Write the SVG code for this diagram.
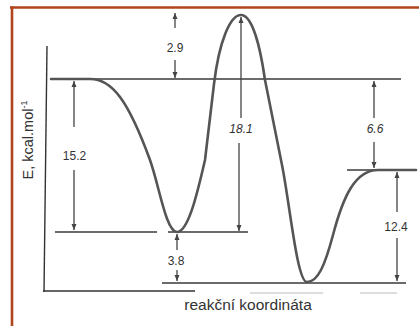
<svg xmlns="http://www.w3.org/2000/svg" width="419" height="326" viewBox="0 0 419 326">
<style>
.frame{stroke:#b0441c;stroke-width:2.6;fill:none}
.axis{stroke:#333;stroke-width:1.4;fill:none}
.lvl{stroke:#3a3a3a;stroke-width:1.4;fill:none}
.faint{stroke:#bbb;stroke-width:1.2;fill:none}
.curve{stroke:#555;stroke-width:2.6;fill:none;stroke-linecap:round;stroke-linejoin:round}
.arr{stroke:#444;stroke-width:1.3;fill:none;marker-end:url(#ah)}
.num{font-family:"Liberation Sans",Arial,sans-serif;font-size:12px;fill:#333;text-anchor:middle}
.it{font-style:italic}
.lab{font-family:"Liberation Sans",Arial,sans-serif;fill:#333}
</style>
<defs>
<marker id="ah" markerWidth="8" markerHeight="8" refX="6" refY="3" orient="auto" markerUnits="userSpaceOnUse">
<path d="M0,0.5 L6,3 L0,5.5 Z" fill="#444"/>
</marker>
</defs>
<rect width="419" height="326" fill="#fff"/>
<g id="frame">
<line class="frame" x1="10" y1="7.5" x2="419" y2="7.5"/>
<line class="frame" x1="12" y1="6.5" x2="12" y2="326"/>
</g>
<g id="axes">
<line class="axis" x1="47" y1="46" x2="44" y2="292"/>
<line class="axis" x1="43" y1="291" x2="195" y2="291"/>
<line class="faint" x1="250" y1="293" x2="323" y2="293"/>
<line class="faint" x1="360" y1="293" x2="397" y2="293"/>
</g>
<g id="levels">
<line class="lvl" x1="51" y1="79" x2="401" y2="79"/>
<line class="lvl" x1="55" y1="232" x2="157" y2="232"/>
<line class="lvl" x1="168" y1="232" x2="248" y2="232"/>
<line class="lvl" x1="162" y1="283" x2="406" y2="283"/>
<line class="lvl" x1="347" y1="170" x2="416" y2="170"/>
</g>
<g id="curve">
<path class="curve" d="M51,79 L90,79 C112,79 128,100 150,160 C159,185 166,232 177,232 C188,232 197,195 205,160 L214,84 C219,42 230,15 241,15 C252,15 260,45 265,80 L282,165 C290,205 297,282 307,282 C318,282 325,265 333,235 C343,197 355,170 378,170 L416,170"/>
</g>
<g id="connectors">
<line class="arr" x1="175" y1="28" x2="175" y2="13"/>
<line class="arr" x1="175" y1="60" x2="175" y2="78"/>
<line class="arr" x1="74" y1="127" x2="74" y2="81"/>
<line class="arr" x1="74" y1="170" x2="74" y2="230"/>
<line class="arr" x1="241" y1="118" x2="241" y2="17"/>
<line class="arr" x1="239" y1="143" x2="239" y2="231"/>
<line class="arr" x1="374" y1="118" x2="374" y2="81"/>
<line class="arr" x1="374" y1="142" x2="374" y2="168"/>
<line class="arr" x1="397" y1="212" x2="397" y2="172"/>
<line class="arr" x1="397" y1="238" x2="397" y2="281"/>
<line class="arr" x1="177" y1="250" x2="177" y2="234"/>
<line class="arr" x1="177" y1="270" x2="177" y2="281"/>
</g>
<g id="labels">
<text class="num" x="175" y="51.5">2.9</text>
<text class="num" x="74.5" y="159.5">15.2</text>
<text class="num it" x="241" y="132.5">18.1</text>
<text class="num it" x="375" y="132.5">6.6</text>
<text class="num" x="396" y="230.5">12.4</text>
<text class="num" x="176" y="264.5">3.8</text>
<text class="lab" font-size="15.5" x="248" y="310" text-anchor="middle">reakční koordináta</text>
<text class="lab" font-size="14.5" transform="translate(33,140) rotate(-90)" text-anchor="middle">E, kcal.mol<tspan font-size="9" dy="-6">-1</tspan></text>
</g>
</svg>
